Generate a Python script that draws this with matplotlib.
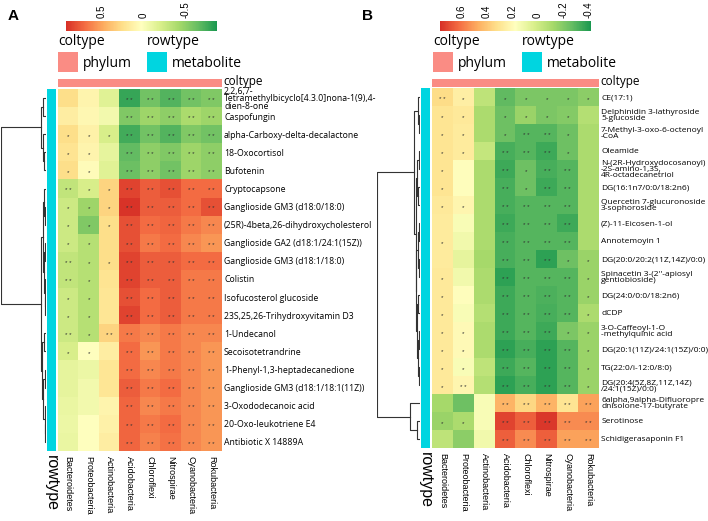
import numpy as np
import matplotlib
matplotlib.use("Agg")
import matplotlib.pyplot as plt
from matplotlib.colors import LinearSegmentedColormap, Normalize

W, H = 708, 521

phyla = ["Bacteroidetes", "Proteobacteria", "Actinobacteria", "Acidobacteria",
         "Chloroflexi", "Nitrospirae", "Cyanobacteria", "Rokubacteria"]

# ---- panel A data
rows_a = [
    "2,2,6,7-\nTetramethylbicyclo[4.3.0]nona-1(9),4-\ndien-8-one",
    "Caspofungin",
    "alpha-Carboxy-delta-decalactone",
    "18-Oxocortisol",
    "Bufotenin",
    "Cryptocapsone",
    "Ganglioside GM3 (d18:0/18:0)",
    "(25R)-4beta,26-dihydroxycholesterol",
    "Ganglioside GA2 (d18:1/24:1(15Z))",
    "Ganglioside GM3 (d18:1/18:0)",
    "Colistin",
    "Isofucosterol glucoside",
    "23S,25,26-Trihydroxyvitamin D3",
    "1-Undecanol",
    "Secoisotetrandrine",
    "1-Phenyl-1,3-heptadecanedione",
    "Ganglioside GM3 (d18:1/18:1(11Z))",
    "3-Oxododecanoic acid",
    "20-Oxo-leukotriene E4",
    "Antibiotic X 14889A",
]
vals_a = [
    [0.25, 0.10, -0.15, -0.78, -0.60, -0.70, -0.60, -0.55],
    [0.15, 0.08, -0.05, -0.55, -0.45, -0.50, -0.40, -0.45],
    [0.25, 0.12, -0.20, -0.75, -0.60, -0.70, -0.55, -0.60],
    [0.22, 0.10, -0.12, -0.65, -0.50, -0.55, -0.45, -0.50],
    [0.25, 0.05, -0.15, -0.62, -0.50, -0.60, -0.45, -0.50],
    [-0.30, -0.20, 0.30, 0.85, 0.75, 0.80, 0.70, 0.70],
    [-0.25, -0.45, 0.30, 0.90, 0.75, 0.75, 0.70, 0.80],
    [-0.25, -0.55, 0.25, 0.80, 0.70, 0.72, 0.65, 0.60],
    [-0.25, -0.35, 0.25, 0.80, 0.65, 0.70, 0.60, 0.55],
    [-0.30, -0.35, 0.25, 0.85, 0.75, 0.75, 0.70, 0.70],
    [-0.30, -0.35, 0.22, 0.85, 0.75, 0.75, 0.65, 0.65],
    [-0.25, -0.35, 0.20, 0.80, 0.70, 0.75, 0.65, 0.65],
    [-0.25, -0.35, 0.20, 0.85, 0.70, 0.75, 0.65, 0.65],
    [-0.25, -0.35, 0.30, 0.65, 0.60, 0.65, 0.60, 0.60],
    [-0.20, 0.02, 0.15, 0.70, 0.55, 0.65, 0.60, 0.55],
    [-0.12, -0.08, 0.20, 0.70, 0.60, 0.65, 0.60, 0.55],
    [-0.12, -0.05, 0.20, 0.75, 0.65, 0.70, 0.60, 0.55],
    [-0.10, -0.05, 0.10, 0.72, 0.60, 0.65, 0.60, 0.55],
    [-0.08, 0.02, 0.12, 0.72, 0.65, 0.70, 0.60, 0.55],
    [-0.10, 0.02, 0.15, 0.72, 0.62, 0.68, 0.60, 0.55],
]
stars_a = [
    ["", "", "", "**", "**", "**", "**", "**"],
    ["", "", "", "**", "**", "**", "**", "**"],
    ["*", "*", "*", "**", "**", "**", "**", "**"],
    ["*", "*", "", "**", "**", "**", "**", "**"],
    ["*", "*", "", "**", "**", "**", "**", "**"],
    ["**", "*", "*", "**", "**", "**", "**", "**"],
    ["*", "*", "*", "**", "**", "**", "**", "**"],
    ["*", "*", "*", "**", "**", "**", "**", "**"],
    ["*", "*", "", "**", "**", "**", "**", "**"],
    ["**", "*", "*", "**", "**", "**", "**", "**"],
    ["**", "*", "", "**", "**", "**", "**", "**"],
    ["*", "*", "", "**", "**", "**", "**", "**"],
    ["*", "*", "", "**", "**", "**", "**", "**"],
    ["**", "*", "**", "**", "**", "**", "**", "**"],
    ["*", "*", "", "**", "**", "**", "**", "**"],
    ["", "", "", "**", "**", "**", "**", "**"],
    ["", "", "", "**", "**", "**", "**", "**"],
    ["", "", "", "**", "**", "**", "**", "**"],
    ["", "", "", "**", "**", "**", "**", "**"],
    ["", "", "", "**", "**", "**", "**", "**"],
]
# row dendrogram: (height, left, right), leaves are row indices
tree_a = (1.0,
          (0.12, (0.07, 0, 1), (0.06, 2, (0.04, 3, 4))),
          (0.11,
           (0.07, (0.04, 5, (0.03, 6, 7)), (0.05, (0.03, 8, 9), (0.02, 10, (0.015, 11, 12)))),
           (0.09, (0.05, 13, 14), (0.06, (0.03, 15, 16), (0.03, 17, (0.02, 18, 19))))))
range_a = (-0.87, 0.92)
ticks_a = [0.5, 0, -0.5]

# ---- panel B data
rows_b = [
    "CE(17:1)",
    "Delphinidin 3-lathyroside\n5-glucoside",
    "7-Methyl-3-oxo-6-octenoyl\n-CoA",
    "Oleamide",
    "N-(2R-Hydroxydocosanoyl)\n-2S-amino-1,3S,\n4R-octadecanetriol",
    "DG(16:1n7/0:0/18:2n6)",
    "Quercetin 7-glucuronoside\n3-sophoroside",
    "(Z)-11-Eicosen-1-ol",
    "Annotemoyin 1",
    "DG(20:0/20:2(11Z,14Z)/0:0)",
    "Spinacetin 3-(2''-apiosyl\ngentiobioside)",
    "DG(24:0/0:0/18:2n6)",
    "dCDP",
    "3-O-Caffeoyl-1-O\n-methylquinic acid",
    "DG(20:1(11Z)/24:1(15Z)/0:0)",
    "TG(22:0/i-12:0/8:0)",
    "DG(20:4(5Z,8Z,11Z,14Z)\n/24:1(15Z)/0:0)",
    "6alpha,9alpha-Difluoropre\ndnisolone-17-butyrate",
    "Serotinose",
    "Schidigerasaponin F1",
]
vals_b = [
    [0.33, 0.25, -0.05, -0.28, -0.22, -0.22, -0.22, -0.18],
    [0.30, 0.28, -0.10, -0.25, -0.15, -0.22, -0.20, -0.08],
    [0.30, 0.27, -0.10, -0.25, -0.30, -0.30, -0.25, -0.10],
    [0.30, 0.27, -0.03, -0.33, -0.30, -0.35, -0.25, -0.10],
    [0.30, 0.18, -0.10, -0.35, -0.25, -0.33, -0.30, -0.10],
    [0.30, 0.18, -0.10, -0.33, -0.25, -0.35, -0.30, -0.10],
    [0.28, 0.22, -0.10, -0.33, -0.30, -0.30, -0.30, -0.10],
    [0.27, 0.15, -0.10, -0.35, -0.30, -0.30, -0.35, -0.10],
    [0.27, 0.12, -0.10, -0.33, -0.30, -0.30, -0.30, -0.10],
    [0.27, 0.08, -0.12, -0.33, -0.30, -0.38, -0.25, -0.15],
    [0.28, 0.12, -0.10, -0.38, -0.30, -0.30, -0.30, -0.15],
    [0.28, 0.18, -0.10, -0.35, -0.30, -0.32, -0.30, -0.15],
    [0.28, 0.15, -0.08, -0.35, -0.30, -0.33, -0.30, -0.10],
    [0.28, 0.20, -0.10, -0.35, -0.30, -0.35, -0.22, -0.15],
    [0.28, 0.20, -0.10, -0.38, -0.33, -0.38, -0.30, -0.15],
    [0.28, 0.15, -0.05, -0.35, -0.30, -0.38, -0.30, -0.15],
    [0.28, 0.22, -0.08, -0.38, -0.33, -0.38, -0.30, -0.15],
    [-0.12, -0.25, 0.15, 0.45, 0.35, 0.45, 0.30, 0.50],
    [-0.15, -0.10, 0.15, 0.72, 0.65, 0.75, 0.55, 0.55],
    [-0.05, -0.18, 0.12, 0.65, 0.55, 0.65, 0.50, 0.50],
]
stars_b = [
    ["**", "*", "", "*", "*", "*", "*", "*"],
    ["*", "*", "", "*", "*", "*", "*", ""],
    ["*", "*", "", "*", "**", "**", "*", ""],
    ["*", "*", "", "**", "**", "**", "*", ""],
    ["*", "", "", "**", "*", "**", "**", ""],
    ["*", "", "", "**", "*", "**", "**", ""],
    ["*", "*", "", "**", "**", "**", "**", ""],
    ["", "", "", "**", "**", "**", "**", ""],
    ["*", "", "", "**", "**", "**", "**", ""],
    ["", "", "", "**", "**", "**", "*", "*"],
    ["*", "", "", "**", "**", "**", "**", "*"],
    ["*", "", "", "**", "**", "**", "**", "*"],
    ["*", "", "", "**", "**", "**", "**", "*"],
    ["*", "*", "", "**", "**", "**", "*", "*"],
    ["*", "*", "", "**", "**", "**", "**", "*"],
    ["*", "*", "", "**", "**", "**", "**", "*"],
    ["*", "**", "", "**", "**", "**", "**", "*"],
    ["", "", "", "**", "**", "**", "**", "**"],
    ["*", "*", "", "**", "**", "**", "**", "**"],
    ["", "", "", "**", "**", "**", "**", "**"],
]
tree_b = (1.0,
          (0.14, (0.05, 0, (0.03, 1, 2)),
           (0.10, (0.06, (0.03, 3, 4), (0.04, 5, 6)),
            (0.09, (0.05, (0.03, 7, 8), (0.03, 9, 10)),
             (0.07, (0.04, 11, 12), (0.05, (0.03, 13, 14), (0.02, 15, 16)))))),
          (0.23, 17, (0.07, 18, 19)))
range_b = (-0.42, 0.77)
ticks_b = [0.6, 0.4, 0.2, 0, -0.2, -0.4]

cmap = LinearSegmentedColormap.from_list(
    "gyr", ["#1a9850", "#66bd63", "#a6d96a", "#d9ef8b", "#ffffbf",
            "#fee08b", "#fdae61", "#f46d43", "#d73027"])
col_color = "#fa8c84"
row_color = "#00d5e0"
LBL = "Open Sans"
SANS = "Liberation Sans"

fig = plt.figure(figsize=(W / 100, H / 100), dpi=100)


def px_axes(x0, y0, x1, y1):
    return fig.add_axes([x0 / W, 1 - y1 / H, (x1 - x0) / W, (y1 - y0) / H])


def draw_tree(ax, node):
    if isinstance(node, int):
        return node + 0.5, 0.0
    h, a, b = node
    ya, ha = draw_tree(ax, a)
    yb, hb = draw_tree(ax, b)
    ax.plot([ha, h, h, hb], [ya, ya, yb, yb], color="#333333", lw=0.8)
    return (ya + yb) / 2, h


def panel(top, bottom, hm_l, hm_r, names, vals, stars, tree, rng, ticks,
          letter, letter_x, cbar_l, cbar_r, leg_x, leg_x2, dend_l, lbl_size):
    n = len(names)
    vals = np.array(vals)
    norm = Normalize(vmin=rng[0], vmax=rng[1])

    # heatmap
    ax = px_axes(hm_l, top, hm_r, bottom)
    im = ax.imshow(vals, cmap=cmap, norm=norm, aspect="auto",
                   extent=[0, 8, n, 0], interpolation="nearest")
    ax.set_xlim(0, 8)
    ax.set_ylim(n, 0)
    ax.axis("off")
    for i in range(n):
        for j in range(8):
            if stars[i][j]:
                ax.text(j + 0.5, i + 0.62, " ".join(stars[i][j]), ha="center",
                        va="center", fontsize=4.5, color="#333333",
                        family=SANS)
        ax.text(8.1, i + 0.55, names[i], ha="left", va="center",
                fontsize=lbl_size, family=LBL, linespacing=0.8,
                clip_on=False)
    for j, p in enumerate(phyla):
        ax.text(j + 0.5, n + 0.3, p, rotation=-90, ha="center", va="top",
                fontsize=6.5, family=SANS, clip_on=False)

    # annotation bars
    cb_ax = px_axes(hm_l, 79, hm_r, 87)
    cb_ax.set_facecolor(col_color)
    cb_ax.set_xticks([])
    cb_ax.set_yticks([])
    for s in cb_ax.spines.values():
        s.set_visible(False)
    cb_ax.text(1.01, 0.75, "coltype", transform=cb_ax.transAxes, ha="left",
               va="center", fontsize=8.5, family=LBL)

    rb_ax = px_axes(hm_l - 11, top, hm_l - 2, bottom)
    rb_ax.set_facecolor(row_color)
    rb_ax.set_xticks([])
    rb_ax.set_yticks([])
    for s in rb_ax.spines.values():
        s.set_visible(False)
    rb_ax.text(0.5, -0.012, "rowtype", transform=rb_ax.transAxes,
               rotation=-90, ha="center", va="top", fontsize=11.5,
               family=SANS)

    # dendrogram
    d_ax = px_axes(dend_l, top, hm_l - 12, bottom)
    draw_tree(d_ax, tree)
    d_ax.set_xlim(tree[0] * 1.01, 0)
    d_ax.set_ylim(n, 0)
    d_ax.axis("off")

    # colour key
    k_ax = px_axes(cbar_l, 21, cbar_r, 31)
    cb = fig.colorbar(im, cax=k_ax, orientation="horizontal")
    cb.outline.set_visible(False)
    k_ax.invert_xaxis()
    k_ax.xaxis.set_ticks_position("top")
    cb.set_ticks(ticks)
    cb.set_ticklabels([f"{t:g}" for t in ticks])
    k_ax.tick_params(length=0, pad=2, labelsize=7, labelrotation=90)
    for t in k_ax.get_xticklabels():
        t.set_family(SANS)

    # legends
    fig.text(letter_x / W, 1 - 20 / H, letter, fontsize=11, weight="bold",
             family=SANS)
    fig.text(leg_x / W, 1 - 45 / H, "coltype", fontsize=10, family=LBL)
    fig.text(leg_x2 / W, 1 - 45 / H, "rowtype", fontsize=10, family=LBL)
    sw1 = px_axes(leg_x, 52, leg_x + 20, 72)
    sw2 = px_axes(leg_x2, 52, leg_x2 + 20, 72)
    for sw, c in ((sw1, col_color), (sw2, row_color)):
        sw.set_facecolor(c)
        sw.set_xticks([])
        sw.set_yticks([])
        for s in sw.spines.values():
            s.set_visible(False)
    fig.text((leg_x + 25) / W, 1 - 67 / H, "phylum", fontsize=10, family=LBL)
    fig.text((leg_x2 + 25) / W, 1 - 67 / H, "metabolite", fontsize=10,
             family=LBL)


panel(89, 451, 58, 222, rows_a, vals_a, stars_a, tree_a, range_a, ticks_a,
      "A", 8, 66, 217, 58, 147, 1, 6.3)
panel(88, 448, 432, 599, rows_b, vals_b, stars_b, tree_b, range_b, ticks_b,
      "B", 362, 440, 591, 433, 522, 377, 6)

fig.savefig("out.png", dpi=100)
